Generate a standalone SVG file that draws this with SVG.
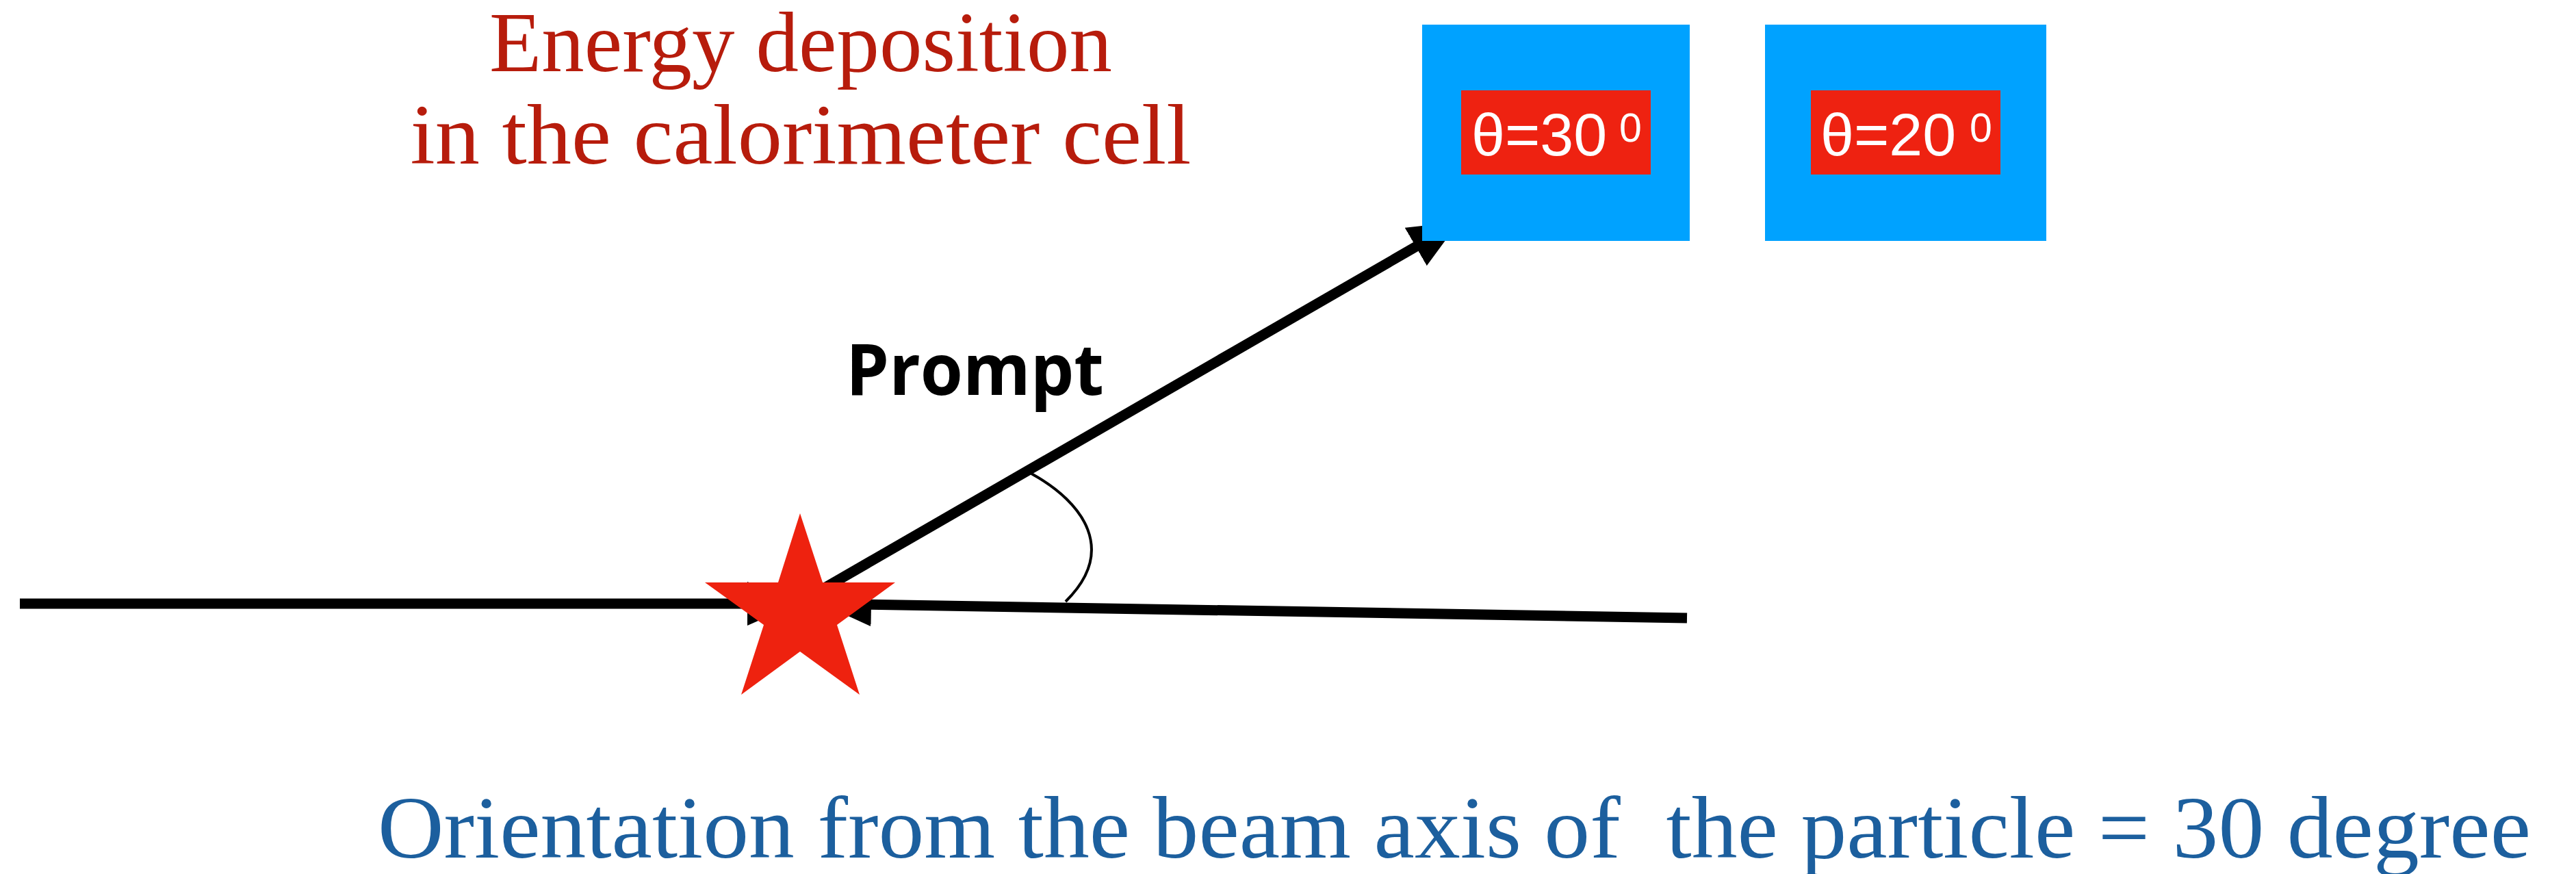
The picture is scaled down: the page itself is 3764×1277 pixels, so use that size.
<svg xmlns="http://www.w3.org/2000/svg" width="3764" height="1277" viewBox="0 0 3764 1277">
<style>
.cell{fill:#00A2FF}
.lab{fill:#EE2211}
.labt{font-family:"Liberation Sans",Arial,sans-serif;fill:#FFFFFF}
.serif{font-family:"Liberation Serif","Times New Roman",serif}
.beam{stroke:#000;stroke-width:15;fill:none}
</style>
<defs>
<marker id="ah" markerUnits="userSpaceOnUse" markerWidth="80" markerHeight="70" refX="73" refY="32" orient="auto">
<path d="M0,0 L73,32 L0,64 Z" fill="#000"/>
</marker>
</defs>
<rect width="3764" height="1277" fill="#FFFFFF"/>
<g id="connectors">
<path class="beam" d="M29,882 L1165,882" marker-end="url(#ah)"/>
<path class="beam" d="M2465,903 L1200,882" marker-end="url(#ah)"/>
<path class="beam" d="M1165,882 L2132,324" marker-end="url(#ah)"/>
<path d="M1507,692 C1585,735 1632,805 1557,879" stroke="#000" stroke-width="4" fill="none"/>
</g>
<g id="title">
<text class="serif" x="1170" y="104" font-size="124" fill="#B71C0C" text-anchor="middle" textLength="910" lengthAdjust="spacingAndGlyphs">Energy deposition</text>
<text class="serif" x="1170" y="239" font-size="124" fill="#B71C0C" text-anchor="middle" textLength="1141" lengthAdjust="spacingAndGlyphs">in the calorimeter cell</text>
</g>
<g id="cell30">
<rect class="cell" x="2078" y="36" width="391" height="316"/>
<rect class="lab" x="2135" y="132" width="277" height="123"/>
<text class="labt" font-size="88"><tspan x="2150" y="227">θ=30</tspan><tspan x="2366" y="207" font-size="59">0</tspan></text>
</g>
<g id="cell20">
<rect class="cell" x="2579" y="36" width="411" height="316"/>
<rect class="lab" x="2646" y="132" width="277" height="123"/>
<text class="labt" font-size="88"><tspan x="2660" y="227">θ=20</tspan><tspan x="2878" y="207" font-size="59">0</tspan></text>
</g>
<g id="prompt">
<text x="1236" y="577" font-family="'Open Sans','DejaVu Sans',sans-serif" font-weight="bold" font-size="104" fill="#000" textLength="377" lengthAdjust="spacingAndGlyphs">Prompt</text>
</g>
<g id="vertex">
<polygon points="1169,750 1202,851 1308,851 1223,913 1256,1015 1169,952 1083,1015 1116,913 1030,851 1137,851" fill="#EE220F"/>
</g>
<g id="caption">
<text class="serif" x="552" y="1253" font-size="130" fill="#1C5F9E" textLength="3146" lengthAdjust="spacingAndGlyphs" xml:space="preserve">Orientation from the beam axis of  the particle = 30 degree</text>
</g>
</svg>
